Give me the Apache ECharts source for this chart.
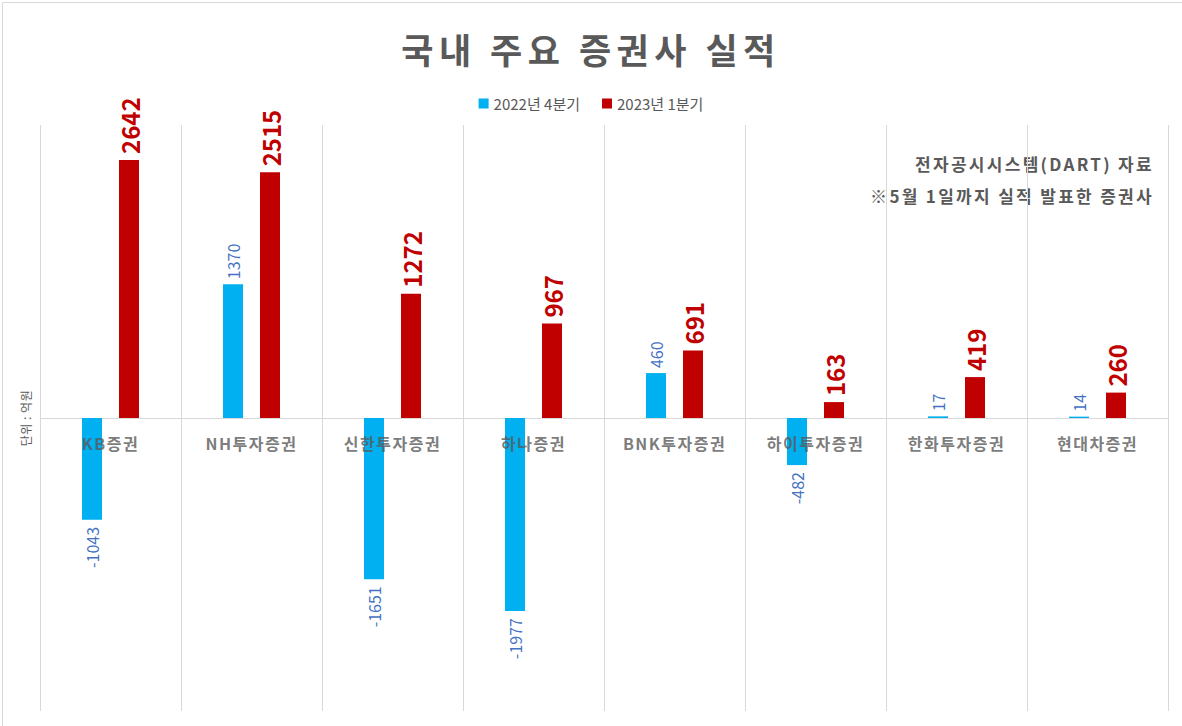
<!DOCTYPE html>
<html><head><meta charset="utf-8">
<script src="https://cdn.jsdelivr.net/npm/echarts@6/dist/echarts.min.js"></script>
<style>html,body{margin:0;padding:0;background:#fff}#c{width:1182px;height:726px}</style>
</head><body><div id="c"></div>
<script>
const categories = ['KB증권','NH투자증권','신한투자증권','하나증권','BNK투자증권','하이투자증권','한화투자증권','현대차증권'];
const q4_2022 = [-1043, 1370, -1651, -1977, 460, -482, 17, 14];
const q1_2023 = [2642, 2515, 1272, 967, 691, 163, 419, 260];
const seriesNames = ['2022년 4분기','2023년 1분기'];
const titleText = '국내 주요 증권사 실적';
const noteLines = ['전자공시시스템(DART) 자료','※5월 1일까지 실적 발표한 증권사'];
const unitText = '단위 : 억원';

const FONT = '"Noto Sans CJK KR","Noto Sans",sans-serif';
const gray = '#595959';

function mkData(arr, labelBase){
  return arr.map(v => ({
    value: v,
    label: Object.assign({}, labelBase, v >= 0
      ? {position: 'top', align: 'left', verticalAlign: 'middle'}
      : {position: 'bottom', align: 'right', verticalAlign: 'middle', distance: 7})
  }));
}

const blueLabel = {show: true, rotate: 90, color: '#4472C4', fontSize: 16, fontFamily: FONT, distance: 5};
const redLabel = {show: true, rotate: 90, color: '#C00000', fontSize: 24, fontWeight: 'bold', fontFamily: FONT, distance: 6};

const chart = echarts.init(document.getElementById('c'), null, {renderer: 'svg'});
chart.setOption({
  backgroundColor: '#fff',
  animation: false,
  textStyle: {fontFamily: FONT},
  title: {
    text: titleText, left: 'center', top: 26,
    textStyle: {fontSize: 35, fontWeight: 'bold', color: gray, fontFamily: FONT}
  },
  legend: {
    top: 91, left: 'center', itemWidth: 10, itemHeight: 10, itemGap: 22,
    icon: 'rect',
    textStyle: {fontSize: 15, color: gray, fontFamily: FONT},
    data: seriesNames
  },
  grid: {left: 40, right: 14, top: 125, bottom: 15, containLabel: false, outerBoundsMode: 'none'},
  xAxis: {
    type: 'category', data: categories,
    axisLine: {onZero: true, lineStyle: {color: '#d9d9d9', width: 1}},
    axisTick: {show: false},
    splitLine: {show: true, lineStyle: {color: '#d9d9d9', width: 1}},
    axisLabel: {show: false}
  },
  yAxis: {
    type: 'value', min: -3000, max: 3000, interval: 1000,
    axisLine: {show: false}, axisTick: {show: false}, axisLabel: {show: false},
    splitLine: {show: false},
    name: unitText, nameLocation: 'middle', nameGap: 9, nameRotate: 90,
    nameTextStyle: {color: gray, fontSize: 12, fontFamily: FONT}
  },
  series: [
    {name: seriesNames[0], type: 'bar', barWidth: 20, barGap: '85%',
     itemStyle: {color: '#00B0F0'}, data: mkData(q4_2022, blueLabel)},
    {name: seriesNames[1], type: 'bar', barWidth: 20,
     itemStyle: {color: '#C00000'}, data: mkData(q1_2023, redLabel)},
    {name: 'categoryLabels', type: 'scatter', symbolSize: 0, silent: true, z: 10,
     data: categories.map(() => 0),
     label: {show: true, position: 'bottom', distance: 17, formatter: p => p.name,
             color: gray, fontSize: 16, fontWeight: 'bold', fontFamily: FONT}}
  ],
  graphic: [
    {type: 'rect', left: 0, top: 0, shape: {x: 0.5, y: 0.5, width: 1181, height: 725},
     style: {fill: 'none', stroke: '#d9d9d9', lineWidth: 1}, silent: true, z: -10},
    {type: 'text', right: 28, top: 155,
     style: {text: noteLines[0], font: 'bold 17px ' + FONT, fill: gray, textAlign: 'right'}},
    {type: 'text', right: 28, top: 187,
     style: {text: noteLines[1], font: 'bold 17px ' + FONT, fill: gray, textAlign: 'right'}}
  ]
});

function applySpacing(){
  const texts = document.querySelectorAll('#c svg text');
  texts.forEach(t => {
    const s = t.textContent;
    let ls = null;
    if (s === titleText) ls = '5.5px';
    else if (categories.indexOf(s) >= 0) ls = '1.5px';
    else if (noteLines.indexOf(s) >= 0) ls = '2.3px';
    else if (s === unitText) ls = '0.5px';
    if (ls) t.style.letterSpacing = ls;
  });
}
chart.on('finished', applySpacing);
chart.on('rendered', applySpacing);
applySpacing();
setTimeout(applySpacing, 0);
requestAnimationFrame(applySpacing);
</script>
</body></html>
